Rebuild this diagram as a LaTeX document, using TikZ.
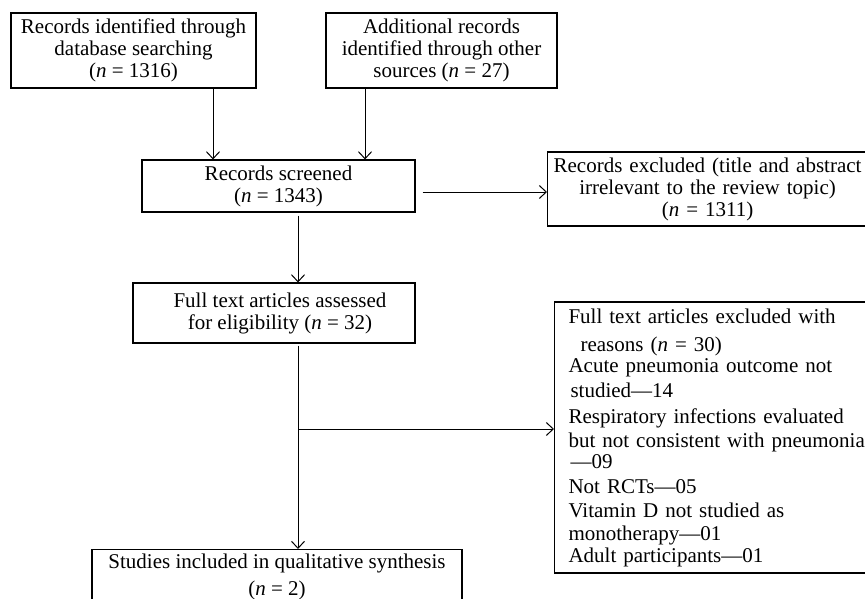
\documentclass[tikz,border=0pt]{standalone}
\usepackage{fontspec}
\setmainfont{Liberation Serif}
\usetikzlibrary{arrows.meta}
\begin{document}
\begin{tikzpicture}[x=1pt,y=-1pt,
  box/.style={draw, line width=1.1pt, inner sep=0pt, align=center, font=\fontsize{21}{22}\selectfont},
  arr/.style={-{Straight Barb[length=7pt,width=13pt]}, line width=1pt}]
\clip (0,0) rectangle (865,599);
\node[box, minimum width=245pt, minimum height=75pt] (A) at (133.5,50.5)
  {Records identified through\\database searching\\(\textit{n} = 1316)};
\node[box, minimum width=231pt, minimum height=75pt] (B) at (441.5,50.5)
  {Additional records\\identified through other\\sources (\textit{n} = 27)};
\node[box, minimum width=273pt, minimum height=52pt] (C) at (278.5,186)
  {Records screened\\(\textit{n} = 1343)};
\node[box, text width=320pt, minimum height=74pt, anchor=west] (D) at (547,189)
  {Records excluded (title and abstract\\irrelevant to the review topic)\\(\textit{n} = 1311)};
\node[box, minimum width=282pt, minimum height=60pt] (E) at (274,313)
  {\hspace*{12pt}Full text articles assessed\\\hspace*{12pt}for eligibility (\textit{n} = 32)};
\node[box, minimum width=370pt, minimum height=55pt, anchor=north] (F) at (277,549)
  {Studies included in qualitative synthesis\\[5pt](\textit{n} = 2)};
\node[box, align=left, text width=300pt, inner xsep=14pt, minimum height=271pt, anchor=west,
  font=\fontsize{21}{24}\selectfont] (G) at (554,437.5)
  {Full text articles excluded with\\[4pt]
   \hspace*{12pt}reasons (\textit{n} = 30)\\[-3pt]
   Acute pneumonia outcome not\\[1pt]
   \hspace*{2pt}studied—14\\[2pt]
   Respiratory infections evaluated\\
   but not consistent with pneumonia\\[-3pt]
   \hspace*{2pt}—09\\[1pt]
   Not RCTs—05\\[0pt]
   Vitamin D not studied as\\[-1pt]
   monotherapy—01\\[-2pt]
   Adult participants—01};
\coordinate (vA) at (213,0);
\coordinate (vB) at (365,0);
\coordinate (vC) at (298,0);
\coordinate (hC) at (0,192);
\coordinate (br) at (298,429);
\draw[arr] (A.south -| vA) -- (C.north -| vA);
\draw[arr] (B.south -| vB) -- (C.north -| vB);
\draw[arr, shorten <=7pt] (C.east |- hC) -- (D.west |- hC);
\draw[arr, shorten <=3pt] (C.south -| vC) -- (E.north -| vC);
\draw[arr, shorten <=2pt] (E.south -| vC) -- (F.north -| vC);
\draw[arr] (br) -- (G.west |- br);
\end{tikzpicture}
\end{document}
